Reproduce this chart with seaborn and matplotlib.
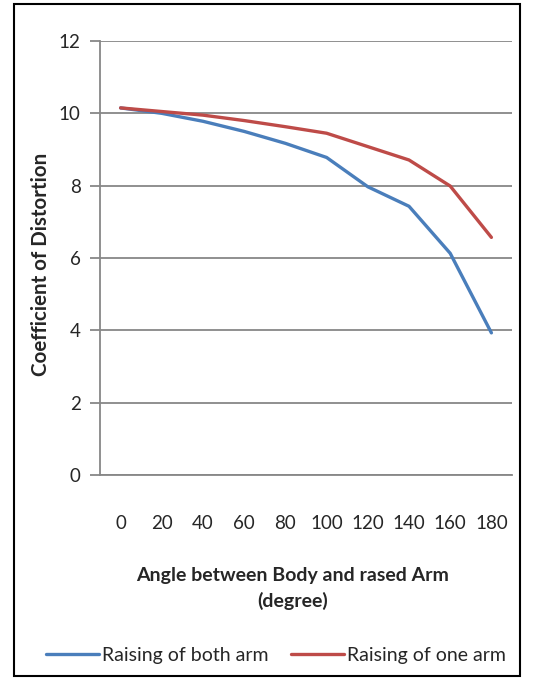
import matplotlib
matplotlib.use("Agg")
import matplotlib.pyplot as plt
import seaborn as sns
import pandas as pd
from matplotlib.patches import Rectangle

angles = ["0", "20", "40", "60", "80", "100", "120", "140", "160", "180"]
both_arm = [10.15, 10.0, 9.78, 9.5, 9.17, 8.78, 7.97, 7.43, 6.13, 3.93]
one_arm = [10.15, 10.05, 9.95, 9.8, 9.63, 9.45, 9.08, 8.71, 7.99, 6.57]
series_names = ["Raising of both arm", "Raising of one arm"]
y_ticks = [0, 2, 4, 6, 8, 10, 12]

df = pd.DataFrame({
    "angle": angles * 2,
    "value": both_arm + one_arm,
    "series": [series_names[0]] * len(angles) + [series_names[1]] * len(angles),
})

sns.set_theme(style="white")
plt.rcParams["font.family"] = ["Lato", "DejaVu Sans"]

W, H = 534, 680
fig = plt.figure(figsize=(W / 100, H / 100), dpi=100)
ax = fig.add_axes([100 / W, (H - 475) / H, 412 / W, 434 / H])

palette = {series_names[0]: "#4A7EBB", series_names[1]: "#BE4B48"}
sns.lineplot(data=df, x="angle", y="value", hue="series", palette=palette,
             linewidth=2.4, ax=ax, sort=False, legend=False)

ax.set_xlim(-0.5, len(angles) - 0.5)
ax.set_ylim(0, 12)
ax.set_yticks(y_ticks)
ax.set_xticks(range(len(angles)))
ax.set_xticklabels(angles)
ax.yaxis.grid(True, color="#878787", linewidth=1.3)
ax.set_axisbelow(True)
for s in ["top", "right"]:
    ax.spines[s].set_visible(False)
for s in ["left", "bottom"]:
    ax.spines[s].set_color("#878787")
    ax.spines[s].set_linewidth(1.3)
ax.tick_params(axis="y", length=7, width=1.3, color="#878787", direction="out",
               labelsize=13.5, pad=7, left=True)
ax.tick_params(axis="x", length=0, labelsize=13.5, pad=29)

ax.set_xlabel("Angle between Body and rased Arm\n(degree)", fontsize=14,
              fontweight="bold", linespacing=1.55)
ax.xaxis.set_label_coords(0.468, -0.212)
ax.set_ylabel("Coefficient of Distortion", fontsize=14.8, fontweight="bold")
ax.yaxis.set_label_coords(-0.12, 0.486)

handles = [plt.Line2D([], [], color=palette[n], linewidth=2.4) for n in series_names]
fig.legend(handles, series_names, loc="center", bbox_to_anchor=(276 / W, 1 - 655 / H),
           ncol=2, frameon=False, fontsize=14, handlelength=2.7,
           handletextpad=0.15, columnspacing=1.2)

fig.patches.append(Rectangle((14 / W, 4 / H), 506 / W, 672 / H, transform=fig.transFigure,
                             fill=False, edgecolor="black", linewidth=1.5))

fig.savefig("out.png", dpi=100)
